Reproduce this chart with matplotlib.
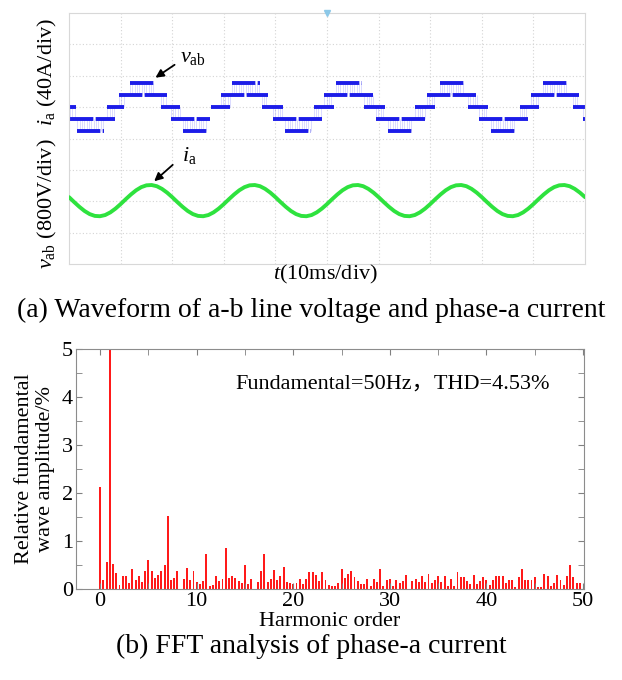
import numpy as np
import matplotlib
matplotlib.use("Agg")
import matplotlib.pyplot as plt

plt.rcParams['font.family'] = ['Liberation Serif', 'Noto Sans CJK SC']
plt.rcParams['mathtext.fontset'] = 'custom'
plt.rcParams['mathtext.rm'] = 'Liberation Serif'
plt.rcParams['mathtext.it'] = 'Liberation Serif:italic'

# ---- oscilloscope traces (time in ms, 10 ms/div, 8 vertical divisions) ----
# v_ab staircase: level index, start ms, end ms of each dwell band
vab_level = [0, -1, -2, 0, 1, 2, 0, -1, -2, 0, 1, 2, 0, -1, -2, 0,
             1, 2, 0, -1, -2, 0, 1, 2, 0, -1, -2, 0, 1, 2, 0, -1]
vab_start = [0.2, 0.2, 1.6, 7.4, 9.7, 11.8, 17.8, 19.7, 22.0, 27.5, 29.4, 31.5,
             37.3, 39.5, 41.9, 47.4, 49.5, 51.7, 57.2, 59.5, 61.8, 67.1, 69.4, 71.8,
             77.3, 79.5, 81.8, 87.3, 89.5, 91.8, 97.6, 99.6]
vab_end = [1.4, 8.9, 6.8, 10.7, 19.0, 16.7, 21.5, 27.3, 26.7, 31.2, 38.6, 37.0,
           41.4, 49.0, 46.9, 51.3, 59.1, 56.7, 61.2, 68.9, 66.6, 70.9, 79.2, 76.7,
           81.1, 88.9, 86.6, 91.1, 98.9, 96.6, 100.0, 100.0]
VAB_STEP_V = 304          # volts per level
VAB_SCALE = 800           # V/div
VAB_OFFSET = 5.0          # trace position, div from bottom

# i_a samples every 1 ms
ia_t = list(range(0, 101))
ia_amp = [4.4, -1.9, -7.9, -13.2, -17.2, -19.5, -19.9, -18.4, -15.0, -10.2,
          -4.4, 1.9, 7.9, 13.2, 17.2, 19.5, 19.9, 18.4, 15.0, 10.2,
          4.4, -1.9, -7.9, -13.2, -17.2, -19.5, -19.9, -18.4, -15.0, -10.2,
          -4.4, 1.9, 7.9, 13.2, 17.2, 19.5, 19.9, 18.4, 15.0, 10.2,
          4.4, -1.9, -7.9, -13.2, -17.2, -19.5, -19.9, -18.4, -15.0, -10.2,
          -4.4, 1.9, 7.9, 13.2, 17.2, 19.5, 19.9, 18.4, 15.0, 10.2,
          4.4, -1.9, -7.9, -13.2, -17.2, -19.5, -19.9, -18.4, -15.0, -10.2,
          -4.4, 1.9, 7.9, 13.2, 17.2, 19.5, 19.9, 18.4, 15.0, 10.2,
          4.4, -1.9, -7.9, -13.2, -17.2, -19.5, -19.9, -18.4, -15.0, -10.2,
          -4.4, 1.9, 7.9, 13.2, 17.2, 19.5, 19.9, 18.4, 15.0, 10.2,
          4.4]
IA_SCALE = 40             # A/div
IA_OFFSET = 2.02          # div from bottom

# ---- FFT of i_a: bins at 1/3 harmonic order, amplitude in % of fundamental ----
fft_amp = [2.13, 0.19, 0.56, 100.0, 0.52, 0.33, 0.08, 0.28, 0.27, 0.13,
           0.42, 0.19, 0.27, 0.15, 0.37, 0.60, 0.38, 0.22, 0.29, 0.37,
           0.49, 1.53, 0.19, 0.22, 0.37, 0.00, 0.21, 0.43, 0.18, 0.38,
           0.14, 0.11, 0.17, 0.73, 0.06, 0.08, 0.27, 0.17, 0.20, 0.85,
           0.22, 0.28, 0.22, 0.16, 0.13, 0.49, 0.10, 0.21, 0.00, 0.14,
           0.37, 0.73, 0.14, 0.21, 0.40, 0.18, 0.28, 0.45, 0.14, 0.12,
           0.11, 0.12, 0.20, 0.11, 0.21, 0.35, 0.36, 0.29, 0.17, 0.35,
           0.19, 0.08, 0.07, 0.06, 0.13, 0.42, 0.22, 0.31, 0.37, 0.25,
           0.17, 0.11, 0.11, 0.20, 0.06, 0.20, 0.14, 0.42, 0.06, 0.18,
           0.20, 0.07, 0.19, 0.12, 0.17, 0.30, 0.00, 0.17, 0.20, 0.14,
           0.28, 0.15, 0.31, 0.12, 0.18, 0.27, 0.14, 0.27, 0.06, 0.20,
           0.07, 0.35, 0.24, 0.26, 0.17, 0.10, 0.29, 0.10, 0.17, 0.25,
           0.18, 0.08, 0.18, 0.28, 0.28, 0.28, 0.12, 0.19, 0.18, 0.05,
           0.25, 0.41, 0.18, 0.18, 0.19, 0.25, 0.05, 0.04, 0.31, 0.27,
           0.06, 0.12, 0.29, 0.19, 0.08, 0.27, 0.49, 0.24, 0.13, 0.12]
BINS_PER_ORDER = 3
fft_order = np.arange(len(fft_amp)) / BINS_PER_ORDER

fig = plt.figure(figsize=(6.22, 6.80), dpi=100)

# ================= (a) scope screen =================
ax1 = fig.add_axes([0.111, 0.6118, 0.8296, 0.369])
ax1.set_xlim(0, 100)
ax1.set_ylim(0, 8)
for x in range(10, 100, 10):
    ax1.axvline(x, color='#d4d4d4', lw=0.8, ls=(0, (1, 2)), zorder=0)
for y in range(1, 8):
    ax1.axhline(y, color='#d4d4d4', lw=0.8, ls=(0, (1, 2)), zorder=0)
ax1.set_xticks([])
ax1.set_yticks([])
for s in ax1.spines.values():
    s.set_color('#d8d8d8')
    s.set_linewidth(0.8)

vab_y = [VAB_OFFSET + lv * VAB_STEP_V / VAB_SCALE for lv in vab_level]

# faint PWM switching edges between neighbouring levels
for i in range(len(vab_level)):
    for j in range(len(vab_level)):
        if vab_level[j] - vab_level[i] != 1:
            continue
        a = max(vab_start[i], vab_start[j])
        b = min(vab_end[i], vab_end[j])
        if b - a > 0.3:
            xs = np.arange(a, b, 0.45)
            ax1.vlines(xs, vab_y[i], vab_y[j], colors='#9a9aff', lw=0.5,
                       alpha=0.5, zorder=1)

ax1.hlines(vab_y, vab_start, vab_end, colors='#1c1ce8', lw=2.8,
           linestyles=(0, (6, 0.6)), zorder=2)

ia_y = [IA_OFFSET + v / IA_SCALE for v in ia_amp]
ax1.plot(ia_t, ia_y, color='#2ee23e', lw=2.8, solid_capstyle='round', zorder=3)

# trigger marker
ax1.plot(50, 8, marker='v', color='#8cc8e8', ms=4, clip_on=False, zorder=4)

ax1.annotate('', xy=(16.3, 5.89), xytext=(20.9, 6.40),
             arrowprops=dict(arrowstyle='-|>', color='black', lw=1.3,
                             mutation_scale=12))
ax1.text(24.0, 6.59, r'$v_{\rm ab}$', fontsize=16, ha='center', va='center')
ax1.annotate('', xy=(16.1, 2.58), xytext=(20.5, 3.22),
             arrowprops=dict(arrowstyle='-|>', color='black', lw=1.3,
                             mutation_scale=12))
ax1.text(23.3, 3.47, r'$i_{\rm a}$', fontsize=16, ha='center', va='center')

fig.text(47 / 622, 1 - 72 / 680, r'$i_{\rm a}$ (40A/div)', rotation=90,
         ha='center', va='center', fontsize=16)
fig.text(47 / 622, 1 - 204 / 680, r'$v_{\rm ab}$ (800V/div)', rotation=90,
         ha='center', va='center', fontsize=16)
fig.text(325 / 622, 1 - 274 / 680, r'$t$(10ms/div)', ha='center', va='center',
         fontsize=16)
fig.text(311 / 622, 1 - 310 / 680,
         '(a) Waveform of a-b line voltage and phase-a current',
         ha='center', va='center', fontsize=20)

# ================= (b) FFT spectrum =================
ax2 = fig.add_axes([0.1222, 0.1338, 0.8167, 0.353])
ax2.bar(fft_order, fft_amp, width=0.2, color='#ff1a1a', edgecolor='none')
ax2.set_xlim(-2.5, 50.1)
ax2.set_ylim(0, 5)
ax2.set_xticks(range(0, 51, 10))
ax2.set_xticks(range(5, 51, 10), minor=True)
ax2.set_yticks(range(0, 6))
ax2.set_yticks(np.arange(0.5, 5, 1.0), minor=True)
ax2.tick_params(which='both', direction='in', top=True, right=True,
                color='#808080', labelsize=16, pad=2)
ax2.tick_params(which='major', length=4)
ax2.tick_params(which='minor', length=4)
for s in ax2.spines.values():
    s.set_color('#8c8c8c')
ax2.set_xlabel('Harmonic order', fontsize=16, labelpad=1)
ax2.text(0.313, 0.854, 'Fundamental=50Hz，THD=4.53%', transform=ax2.transAxes,
         fontsize=16, ha='left', va='center')

fig.text(35 / 622, 1 - 469 / 680, 'Relative fundamental\nwave amplitude/%',
         rotation=90, ha='center', va='center', fontsize=16, linespacing=1.1)
fig.text(311 / 622, 1 - 646 / 680, '(b) FFT analysis of phase-a current',
         ha='center', va='center', fontsize=20)

fig.savefig('out.png', dpi=100)
